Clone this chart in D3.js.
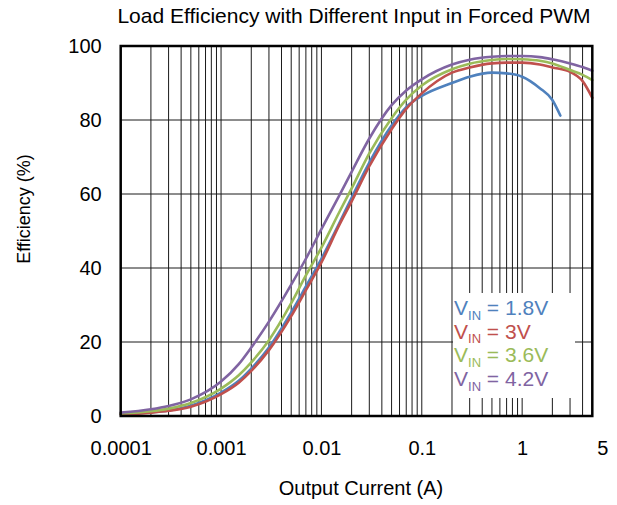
<!DOCTYPE html>
<html>
<head>
<meta charset="utf-8">
<script src="https://cdn.jsdelivr.net/npm/d3@7"></script>
<style>
  body { margin: 0; background: #fff; }
  text { font-family: "Liberation Sans", Arial, sans-serif; fill: #000; }
</style>
</head>
<body>
<div id="chart"></div>
<script>
// output current (A)
var current = [0.0001, 0.0002, 0.0003, 0.0005, 0.001, 0.0015, 0.002, 0.003, 0.005, 0.007,
  0.01, 0.015, 0.02, 0.03, 0.05, 0.07, 0.1, 0.2, 0.3, 0.5, 0.7, 1, 1.5, 2, 3, 4, 5];
var currentLow = [0.0001, 0.0002, 0.0003, 0.0005, 0.001, 0.0015, 0.002, 0.003, 0.005, 0.007,
  0.01, 0.015, 0.02, 0.03, 0.05, 0.07, 0.1, 0.2, 0.3, 0.5, 0.7, 1, 1.5, 2, 2.4];

// efficiency (%)
var eff18 = [0.5, 1.0, 1.5, 2.8, 6.3, 9.5, 12.8, 18.5, 28, 35, 42.5, 52, 59, 68.5, 78.5, 83.5,
  86.5, 90, 91.7, 92.8, 92.6, 91.7, 88.6, 85.4, 81.2];
var eff30 = [0.4, 0.9, 1.4, 2.5, 5.9, 9, 12.2, 17.8, 27, 34, 41.5, 51.5, 58, 67.5, 77.5, 83,
  87.2, 92.8, 94.2, 95.3, 95.5, 95.5, 95, 94.2, 93, 90.5, 86];
var eff36 = [0.7, 1.3, 2.0, 3.5, 7.4, 11, 14.5, 20.5, 30.5, 38, 45.5, 55, 61.5, 71, 80.5, 85.5,
  89.3, 93.7, 95.2, 96.2, 96.5, 96.4, 96, 95.3, 93.5, 92.2, 90.8];
var eff42 = [0.9, 1.8, 2.7, 4.5, 9.3, 14, 18.5, 25.5, 35.5, 42.5, 50.5, 59.5, 66, 75, 84, 88,
  91, 95, 96.3, 97.1, 97.3, 97.3, 97, 96.4, 95.3, 94.3, 93.3];

var seriesNames = ["1.8V", "3V", "3.6V", "4.2V"];
var colors = ["#4F81BD", "#C0504D", "#9BBB59", "#8064A2"];

var xTicks = [0.0001, 0.001, 0.01, 0.1, 1, 5];
var xTickLabels = ["0.0001", "0.001", "0.01", "0.1", "1", "5"];
var yTicks = [0, 20, 40, 60, 80, 100];

var series = [
  { name: seriesNames[0], color: colors[0], values: currentLow.map(function(c, i) { return { x: c, y: eff18[i] }; }) },
  { name: seriesNames[1], color: colors[1], values: current.map(function(c, i) { return { x: c, y: eff30[i] }; }) },
  { name: seriesNames[2], color: colors[2], values: current.map(function(c, i) { return { x: c, y: eff36[i] }; }) },
  { name: seriesNames[3], color: colors[3], values: current.map(function(c, i) { return { x: c, y: eff42[i] }; }) }
];

var margin = { top: 46, right: 24.7, bottom: 89, left: 120.7 };
var width = 617 - margin.left - margin.right;
var height = 505 - margin.top - margin.bottom;

var svg = d3.select("#chart")
  .append("svg")
  .attr("width", 617)
  .attr("height", 505);

var g = svg.append("g")
  .attr("transform", "translate(" + margin.left + "," + margin.top + ")");

var x = d3.scaleLog()
  .domain([0.0001, 5])
  .range([0, width]);

var y = d3.scaleLinear()
  .domain([0, 100])
  .range([height, 0]);

// vertical grid (log minor lines)
g.append("g")
  .selectAll("line")
  .data(x.ticks().filter(function(d) { return d > 0.0001 && d < 5; }))
  .enter().append("line")
  .attr("x1", function(d) { return x(d); })
  .attr("x2", function(d) { return x(d); })
  .attr("y1", 0)
  .attr("y2", height)
  .attr("stroke", "#1a1a1a")
  .attr("stroke-width", 1);

// horizontal grid
g.append("g")
  .selectAll("line")
  .data(yTicks.slice(1, -1))
  .enter().append("line")
  .attr("x1", 0)
  .attr("x2", width)
  .attr("y1", function(d) { return y(d); })
  .attr("y2", function(d) { return y(d); })
  .attr("stroke", "#1a1a1a")
  .attr("stroke-width", 1);

// axes
var xAxis = g.append("g")
  .attr("transform", "translate(0," + height + ")")
  .call(d3.axisBottom(x)
    .tickValues(xTicks)
    .tickSize(0)
    .tickPadding(25)
    .tickFormat(function(d, i) { return xTickLabels[i]; }));
xAxis.select(".domain").remove();
xAxis.selectAll("text")
  .attr("font-size", "20px")
  .attr("font-family", "Liberation Sans, Arial, sans-serif")
  .attr("fill", "#000")
  .attr("dx", function(d) { return d === 5 ? 10 : 0; });

var yAxis = g.append("g")
  .call(d3.axisLeft(y)
    .tickValues(yTicks)
    .tickSize(0)
    .tickPadding(19));
yAxis.select(".domain").remove();
yAxis.selectAll("text")
  .attr("font-size", "20px")
  .attr("font-family", "Liberation Sans, Arial, sans-serif")
  .attr("fill", "#000");

// legend box (covers grid)
var legend = g.append("g")
  .attr("transform", "translate(" + (453 - margin.left) + "," + (293 - margin.top) + ")");
legend.append("rect")
  .attr("width", 122)
  .attr("height", 105)
  .attr("fill", "#fff");

// curves
var line = d3.line()
  .x(function(d) { return x(d.x); })
  .y(function(d) { return y(d.y); })
  .curve(d3.curveMonotoneX);

g.selectAll(".curve")
  .data(series)
  .enter().append("path")
  .attr("class", "curve")
  .attr("d", function(d) { return line(d.values); })
  .attr("fill", "none")
  .attr("stroke", function(d) { return d.color; })
  .attr("stroke-width", 2.6)
  .attr("stroke-linejoin", "round")
  .attr("stroke-linecap", "round");

// frame
g.append("rect")
  .attr("width", width)
  .attr("height", height)
  .attr("fill", "none")
  .attr("stroke", "#000")
  .attr("stroke-width", 2.5);

// legend text
series.forEach(function(s, i) {
  var t = legend.append("text")
    .attr("x", 1)
    .attr("y", 22 + i * 23.7)
    .attr("font-size", "21px")
    .attr("fill", s.color)
    .style("fill", s.color);
  t.append("tspan").text("V");
  t.append("tspan").attr("font-size", "13px").attr("dy", 4.5).text("IN");
  t.append("tspan").attr("dy", -4.5).text(" = " + s.name);
});

// titles
svg.append("text")
  .attr("x", 354)
  .attr("y", 23)
  .attr("text-anchor", "middle")
  .attr("font-size", "21px")
  .text("Load Efficiency with Different Input in Forced PWM");

svg.append("text")
  .attr("x", 361)
  .attr("y", 495)
  .attr("text-anchor", "middle")
  .attr("font-size", "20px")
  .text("Output Current (A)");

svg.append("text")
  .attr("transform", "translate(29.5,209)rotate(-90)")
  .attr("text-anchor", "middle")
  .attr("font-size", "18px")
  .text("Efficiency (%)");
</script>
</body>
</html>
